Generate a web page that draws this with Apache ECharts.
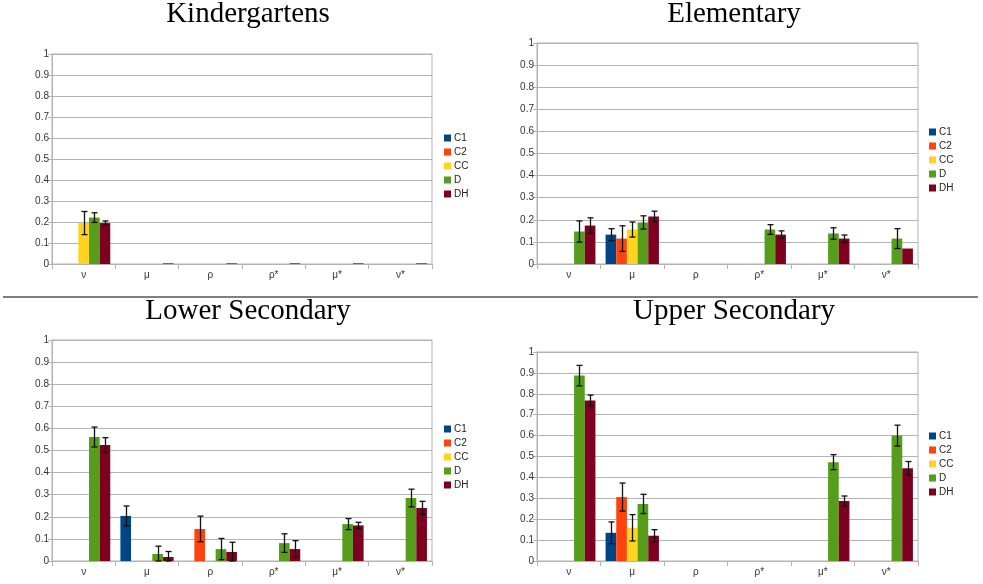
<!DOCTYPE html>
<html><head><meta charset="utf-8">
<script src="https://cdn.jsdelivr.net/npm/echarts@6/dist/echarts.min.js"></script>
<style>html,body{margin:0;padding:0;background:#fff}#c{width:983px;height:584px}</style>
</head><body><div id="c"></div>
<script>
const categories = ['ν', 'μ', 'ρ', 'ρ*', 'μ*', 'ν*'];
const seriesNames = ['C1', 'C2', 'CC', 'D', 'DH'];
const colors = ['#004586', '#ff420e', '#ffd320', '#579d1c', '#7e0021'];
const yTicks = [0, 0.1, 0.2, 0.3, 0.4, 0.5, 0.6, 0.7, 0.8, 0.9, 1];
const panelTitles = ['Kindergartens', 'Elementary', 'Lower Secondary', 'Upper Secondary'];

// rows: C1, C2, CC, D, DH ; columns follow categories
const kindergartensMean = [
  [null, null, null, null, null, null],
  [null, null, null, null, null, null],
  [0.195, null, null, null, null, null],
  [0.221, null, null, null, null, null],
  [0.195, 0.003, 0.003, 0.003, 0.003, 0.003]
];
const kindergartensErr = [
  [null, null, null, null, null, null],
  [null, null, null, null, null, null],
  [0.055, null, null, null, null, null],
  [0.023, null, null, null, null, null],
  [0.01, null, null, null, null, null]
];
const elementaryMean = [
  [null, 0.133, null, null, null, null],
  [null, 0.115, null, null, null, null],
  [null, 0.156, null, null, null, null],
  [0.147, 0.188, null, 0.156, 0.138, 0.115],
  [0.174, 0.215, null, 0.133, 0.115, 0.07]
];
const elementaryErr = [
  [null, 0.027, null, null, null, null],
  [null, 0.058, null, null, null, null],
  [null, 0.034, null, null, null, null],
  [0.048, 0.03, null, 0.022, 0.026, 0.045],
  [0.035, 0.024, null, 0.017, 0.016, null]
];
const lowerSecondaryMean = [
  [null, 0.204, null, null, null, null],
  [null, null, 0.145, null, null, null],
  [null, null, null, null, null, null],
  [0.561, 0.032, 0.054, 0.081, 0.167, 0.285],
  [0.525, 0.018, 0.041, 0.054, 0.161, 0.24]
];
const lowerSecondaryErr = [
  [null, 0.045, null, null, null, null],
  [null, null, 0.058, null, null, null],
  [null, null, null, null, null, null],
  [0.045, 0.035, 0.048, 0.042, 0.025, 0.04],
  [0.033, 0.025, 0.044, 0.038, 0.014, 0.03]
];
const upperSecondaryMean = [
  [null, 0.135, null, null, null, null],
  [null, 0.306, null, null, null, null],
  [null, 0.159, null, null, null, null],
  [0.887, 0.273, null, null, 0.473, 0.6],
  [0.768, 0.121, null, null, 0.287, 0.444]
];
const upperSecondaryErr = [
  [null, 0.052, null, null, null, null],
  [null, 0.067, null, null, null, null],
  [null, 0.063, null, null, null, null],
  [0.049, 0.046, null, null, 0.036, 0.05],
  [0.026, 0.029, null, null, 0.024, 0.032]
];

const panelMeans = [kindergartensMean, elementaryMean, lowerSecondaryMean, upperSecondaryMean];
const panelErrs = [kindergartensErr, elementaryErr, lowerSecondaryErr, upperSecondaryErr];

// layout (pixels)
const grids = [
  {left: 52, top: 54, width: 380, height: 210},
  {left: 537, top: 43, width: 381, height: 221},
  {left: 52, top: 340, width: 380, height: 221},
  {left: 537, top: 352, width: 381, height: 209}
];
const titlePos = [[248, 14], [734, 14], [248, 311], [734, 311]];
const legendPos = [[439, 128], [924, 122], [439, 419], [924, 426]];
const CAT_GAP = 0.16;

const chart = echarts.init(document.getElementById('c'), null, {renderer: 'canvas'});
const gridOpts = [], xAxes = [], yAxes = [], series = [], legends = [], graphics = [];
const axisColor = '#b3b3b3';
const labelFont = {fontFamily: 'Liberation Sans', fontSize: 10, color: '#333'};

grids.forEach((g, p) => {
  gridOpts.push(Object.assign({show: true, borderColor: axisColor, borderWidth: 1, containLabel: false}, g));
  xAxes.push({
    type: 'category', gridIndex: p, data: categories,
    axisLine: {lineStyle: {color: axisColor, width: 1}},
    axisTick: {show: true, length: 5, lineStyle: {color: axisColor}},
    axisLabel: Object.assign({margin: 6}, labelFont),
    splitLine: {show: false}
  });
  yAxes.push({
    type: 'value', gridIndex: p, min: 0, max: 1, interval: 0.1,
    axisLine: {show: true, lineStyle: {color: axisColor, width: 1}},
    axisTick: {show: true, length: 4, lineStyle: {color: axisColor}},
    axisLabel: Object.assign({margin: 3, formatter: v => String(+v.toFixed(1))}, labelFont),
    splitLine: {show: true, lineStyle: {color: axisColor, width: 1}}
  });
  const means = panelMeans[p], errs = panelErrs[p];
  const errData = [];
  seriesNames.forEach((name, s) => {
    series.push({
      type: 'bar', name: name, xAxisIndex: p, yAxisIndex: p, z: 2,
      data: means[s], barGap: '0%', barCategoryGap: (CAT_GAP * 100) + '%',
      itemStyle: {color: colors[s]}, silent: true, animation: false
    });
    means[s].forEach((m, c) => {
      const e = errs[s][c];
      if (m != null && e != null) errData.push([c, s, m - e, m + e]);
    });
  });
  series.push({
    type: 'custom', name: 'err' + p, xAxisIndex: p, yAxisIndex: p, animation: false, silent: true,
    z: 10,
    encode: {x: 0, y: [2, 3]},
    data: errData,
    renderItem: function (params, api) {
      const c = api.value(0), s = api.value(1), lo = Math.max(0, api.value(2)), hi = api.value(3);
      const pLo = api.coord([c, lo]), pHi = api.coord([c, hi]);
      const band = api.size([1, 0])[0];
      const total = band * (1 - CAT_GAP), bw = total / seriesNames.length;
      const x = Math.round(pLo[0] - total / 2 + bw * (s + 0.5)) + 0.5;
      const cap = 3;
      const st = {stroke: '#111', lineWidth: 1.3};
      return {type: 'group', children: [
        {type: 'line', shape: {x1: x, y1: pLo[1], x2: x, y2: pHi[1]}, style: st},
        {type: 'line', shape: {x1: x - cap, y1: pLo[1], x2: x + cap, y2: pLo[1]}, style: st},
        {type: 'line', shape: {x1: x - cap, y1: pHi[1], x2: x + cap, y2: pHi[1]}, style: st}
      ]};
    }
  });
  legends.push({
    data: seriesNames, orient: 'vertical', left: legendPos[p][0], top: legendPos[p][1],
    icon: 'rect', itemWidth: 7, itemHeight: 7, itemGap: 4,
    textStyle: {fontFamily: 'Liberation Sans', fontSize: 10, color: '#222', padding: [0, 0, 0, -2]},
    selectedMode: false
  });
  graphics.push({
    type: 'text', x: titlePos[p][0], y: titlePos[p][1],
    style: {text: panelTitles[p], font: '29px "Liberation Serif"', fill: '#000', textAlign: 'center', textVerticalAlign: 'middle'}
  });
});
graphics.push({type: 'line', shape: {x1: 3, y1: 297, x2: 978, y2: 297}, style: {stroke: '#555', lineWidth: 1.5}});

chart.setOption({
  animation: false,
  grid: gridOpts, xAxis: xAxes, yAxis: yAxes, series: series,
  legend: legends, graphic: graphics
});
</script></body></html>
